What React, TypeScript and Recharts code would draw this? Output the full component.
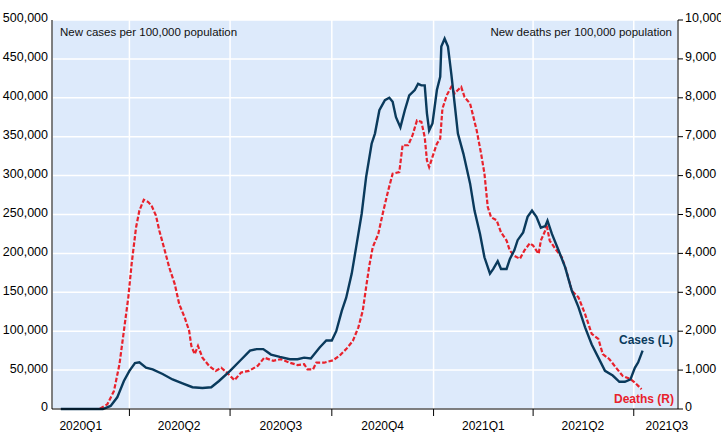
import { LineChart, Line, XAxis, YAxis, CartesianGrid } from "recharts";

// x values are days counted from 2020-01-01
const caseDays = [
  29, 67, 74, 80, 86, 91, 96, 100, 106, 112, 121, 130, 139, 148, 157, 165, 172, 182, 191, 200,
  206, 212, 219, 227, 236, 243, 249, 255, 263, 269, 274, 278, 283, 287, 292, 296, 301, 305, 310, 313,
  317, 322, 326, 329, 332, 336, 340, 344, 349, 352, 355, 358, 360, 362, 365, 369, 372, 373, 376, 379,
  382, 385, 388, 393, 399, 403, 408, 412, 417, 420, 424, 427, 432, 435, 439, 442, 447, 451, 455, 459,
  463, 467, 469, 473, 479, 485, 491, 497, 503, 509, 515, 521, 528, 534, 539, 544, 548, 551, 555,
];
const caseValues = [
  0, 0, 4000, 15000, 36000, 49000, 59000, 60000, 53000, 51000, 45000, 38000, 33000, 28000, 27000, 28000, 36000, 49000, 62000, 75000,
  77000, 77000, 70000, 67000, 64000, 64000, 66000, 65000, 79000, 88000, 88000, 100000, 126000, 143000, 174000, 208000, 251000, 298000, 341000, 354000,
  384000, 397000, 400000, 395000, 375000, 362000, 384000, 403000, 410000, 418000, 416000, 416000, 380000, 358000, 367000, 410000, 427000, 466000, 476000, 466000,
  431000, 393000, 354000, 328000, 290000, 255000, 225000, 195000, 174000, 180000, 190000, 180000, 180000, 193000, 204000, 217000, 227000, 247000, 255000, 247000,
  233000, 235000, 242000, 225000, 204000, 182000, 152000, 131000, 105000, 83000, 66000, 49000, 43000, 35000, 35000, 38000, 53000, 60000, 75000,
];

const deathDays = [
  35, 64, 71, 77, 82, 86, 90, 93, 97, 100, 104, 108, 111, 115, 118, 123, 127, 132, 136, 141,
  145, 147, 150, 153, 157, 163, 169, 174, 179, 186, 192, 199, 207, 213, 221, 228, 236, 243, 249, 252,
  257, 260, 267, 275, 281, 287, 293, 298, 302, 305, 308, 311, 316, 320, 325, 329, 335, 338, 343, 347,
  351, 355, 358, 360, 362, 365, 369, 372, 374, 378, 382, 385, 388, 391, 394, 399, 402, 405, 409, 412,
  415, 418, 423, 427, 432, 435, 439, 444, 448, 453, 456, 459, 461, 463, 467, 468, 471, 476, 482, 486,
  491, 497, 503, 509, 515, 519, 525, 531, 537, 544, 548, 554,
];
const deathValues = [
  0, 0, 120, 460, 1150, 2010, 2870, 3730, 4670, 5100, 5380, 5320, 5230, 4970, 4590, 4070, 3640, 3210, 2700, 2350,
  2010, 1620, 1410, 1620, 1320, 1110, 980, 1060, 940, 740, 940, 980, 1110, 1320, 1240, 1280, 1190, 1130, 1150, 1020,
  1020, 1190, 1190, 1250, 1370, 1540, 1750, 2100, 2530, 3130, 3700, 4160, 4500, 5020, 5620, 6050, 6090, 6780, 6780, 7040,
  7420, 7380, 6990, 6390, 6220, 6480, 6820, 6950, 7720, 8070, 8280, 8110, 8200, 8280, 8020, 7850, 7510, 7160, 6560, 6050,
  5190, 4930, 4850, 4540, 4330, 4070, 3940, 3860, 4070, 4260, 4200, 4070, 3990, 4330, 4590, 4760, 4330, 4120, 3900, 3560,
  3040, 2870, 2440, 1930, 1800, 1410, 1280, 1060, 850, 770, 680, 510,
];

const quarterStarts = [91, 182, 274, 366, 456, 547];
const quarterMids = [47, 136, 228, 320, 411, 501, 577];
const quarterLabels = ["2020Q1", "2020Q2", "2020Q3", "2020Q4", "2021Q1", "2021Q2", "2021Q3"];
const caseTicks = [0, 50000, 100000, 150000, 200000, 250000, 300000, 350000, 400000, 450000, 500000];
const deathTicks = [0, 1000, 2000, 3000, 4000, 5000, 6000, 7000, 8000, 9000, 10000];

const caseData = caseDays.map((d, i) => ({ day: d, cases: caseValues[i] }));
const deathData = deathDays.map((d, i) => ({ day: d, deaths: deathValues[i] }));

const NAVY = "#0A3A5C";
const RED = "#E8222C";
const BG = "#DDEAFB";
const FONT = "'Liberation Sans', Arial, sans-serif";
const DOMAIN: [number, number] = [21, 587];

const fmt = (v: number) => v.toLocaleString("en-US");
const tickStyle = { fill: "#000", fontSize: 12.5, fontFamily: FONT, dy: -2 };

// quarter boundary ticks carry only the tick line, no text
const NoLabel = () => <g />;

export default function App() {
  return (
    <div style={{ position: "absolute", left: 0, top: 0, width: 721, height: 432, fontFamily: FONT }}>
      <LineChart width={721} height={432} margin={{ top: 20, right: 0, bottom: 0, left: 0 }}>
        <CartesianGrid xAxisId="a" yAxisId="left" fill={BG} stroke="#fff" strokeWidth={1.5} />
        <XAxis
          xAxisId="a"
          type="number"
          dataKey="day"
          domain={DOMAIN}
          allowDataOverflow
          ticks={quarterStarts}
          interval={0}
          tick={NoLabel}
          tickSize={7}
          height={9}
          stroke="#000"
          tickLine={{ stroke: "#000" }}
        />
        <XAxis
          xAxisId="b"
          type="number"
          dataKey="day"
          domain={DOMAIN}
          allowDataOverflow
          ticks={quarterMids}
          tickFormatter={(v: number) => quarterLabels[quarterMids.indexOf(v)]}
          axisLine={false}
          tickLine={false}
          tickSize={0}
          tickMargin={3}
          height={14}
          interval={0}
          tick={{ fill: "#000", fontSize: 12, fontFamily: FONT }}
        />
        <YAxis
          yAxisId="left"
          domain={[0, 500000]}
          ticks={caseTicks}
          tickFormatter={fmt}
          width={52}
          tickLine={false}
          tickSize={0}
          tickMargin={4}
          stroke="#000"
          interval={0}
          tick={tickStyle}
        />
        <YAxis
          yAxisId="right"
          orientation="right"
          domain={[0, 10000]}
          ticks={deathTicks}
          tickFormatter={fmt}
          width={43}
          tickSize={5}
          tickMargin={2}
          stroke="#000"
          interval={0}
          tick={{ ...tickStyle, textAnchor: "start" }}
        />
        <Line
          data={deathData}
          xAxisId="a"
          yAxisId="right"
          dataKey="deaths"
          type="linear"
          stroke={RED}
          strokeWidth={2.2}
          strokeDasharray="4.5 2"
          dot={false}
          isAnimationActive={false}
        />
        <Line
          data={caseData}
          xAxisId="a"
          yAxisId="left"
          dataKey="cases"
          type="linear"
          stroke={NAVY}
          strokeWidth={2.4}
          dot={false}
          isAnimationActive={false}
        />
      </LineChart>
      <span style={{ position: "absolute", left: 60, top: 26, fontSize: 11.5, lineHeight: "12px", color: "#111" }}>
        New cases per 100,000 population
      </span>
      <span style={{ position: "absolute", right: 49, top: 26, fontSize: 11.5, lineHeight: "12px", color: "#111" }}>
        New deaths per 100,000 population
      </span>
      <span style={{ position: "absolute", right: 48, top: 333, fontSize: 12, lineHeight: "14px", fontWeight: "bold", color: NAVY }}>
        Cases (L)
      </span>
      <span style={{ position: "absolute", right: 47, top: 392, fontSize: 12, lineHeight: "14px", fontWeight: "bold", color: RED }}>
        Deaths (R)
      </span>
    </div>
  );
}
